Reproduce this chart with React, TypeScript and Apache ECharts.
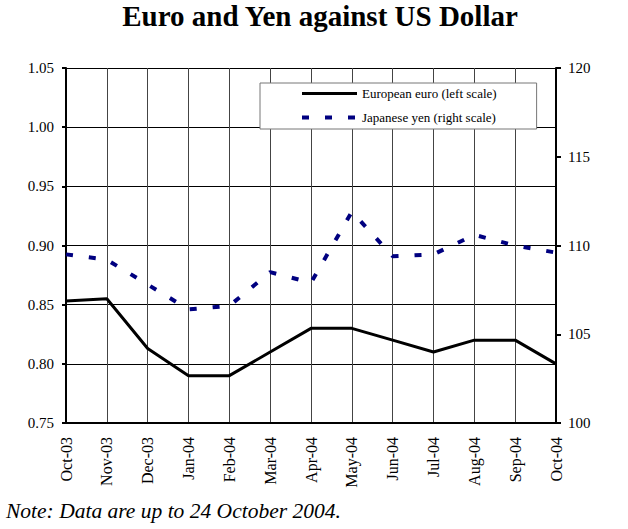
import { useEffect, useRef } from 'react';
import * as echarts from 'echarts';

const months = ['Oct-03', 'Nov-03', 'Dec-03', 'Jan-04', 'Feb-04', 'Mar-04', 'Apr-04', 'May-04', 'Jun-04', 'Jul-04', 'Aug-04', 'Sep-04', 'Oct-04'];
const euro = [0.853, 0.855, 0.813, 0.79, 0.79, 0.81, 0.83, 0.83, 0.82, 0.81, 0.82, 0.82, 0.80];
const yen = [109.5, 109.2, 107.8, 106.4, 106.6, 108.5, 107.9, 111.9, 109.4, 109.5, 110.6, 110.0, 109.6];
const leftScale = { min: 0.75, max: 1.05, interval: 0.05 };
const rightScale = { min: 100, max: 120, interval: 5 };
const euroName = 'European euro (left scale)';
const yenName = 'Japanese yen (right scale)';
const titleText = 'Euro and Yen against US Dollar';
const noteText = 'Note: Data are up to 24 October 2004.';

const SERIF = 'Liberation Serif, DejaVu Serif, serif';

export default function App() {
  const ref = useRef<HTMLDivElement>(null);
  useEffect(() => {
    if (!ref.current) return;
    const chart = echarts.init(ref.current, null, { renderer: 'svg' });
    chart.setOption({
      animation: false,
      backgroundColor: '#fff',
      graphic: [
        {
          type: 'text',
          x: 320,
          y: 16,
          style: {
            text: titleText,
            font: `bold 29px ${SERIF}`,
            fill: '#000',
            align: 'center',
            verticalAlign: 'middle',
          },
        },
        {
          type: 'text',
          x: 6,
          y: 511,
          style: {
            text: noteText,
            font: `italic 21.5px ${SERIF}`,
            fill: '#000',
            align: 'left',
            verticalAlign: 'middle',
          },
        },
      ],
      grid: { left: 66, right: 72, top: 68, bottom: 106, containLabel: false },
      legend: {
        left: 260,
        top: 83,
        orient: 'vertical',
        data: [euroName, yenName],
        itemWidth: 55,
        itemHeight: 14,
        itemGap: 11,
        padding: [4, 40, 5, 40],
        backgroundColor: '#fff',
        borderColor: '#777',
        borderWidth: 1,
        borderRadius: 0,
        itemStyle: { opacity: 0 },
        lineStyle: { width: 'inherit' },
        textStyle: { fontFamily: SERIF, fontSize: 13, color: '#000' },
        selectedMode: false,
      },
      xAxis: {
        type: 'category',
        data: months,
        boundaryGap: false,
        axisLine: { show: true, lineStyle: { color: '#000', width: 2 } },
        axisTick: { show: false },
        axisLabel: { rotate: 90, fontSize: 16, fontFamily: SERIF, color: '#000', margin: 14, interval: 0 },
        splitLine: { show: true, lineStyle: { color: '#444', width: 1 } },
      },
      yAxis: [
        {
          type: 'value',
          position: 'left',
          min: leftScale.min,
          max: leftScale.max,
          interval: leftScale.interval,
          axisLine: { show: true, lineStyle: { color: '#000', width: 2 } },
          axisTick: { show: true, length: 4, lineStyle: { color: '#000', width: 2 } },
          axisLabel: { fontSize: 15, fontFamily: SERIF, color: '#000', margin: 12, formatter: (v: number) => v.toFixed(2) },
          splitLine: { show: true, lineStyle: { color: '#000', width: 1 } },
        },
        {
          type: 'value',
          position: 'right',
          min: rightScale.min,
          max: rightScale.max,
          interval: rightScale.interval,
          axisLine: { show: true, lineStyle: { color: '#000', width: 2 } },
          axisTick: { show: true, length: 5, lineStyle: { color: '#000', width: 2 } },
          axisLabel: { fontSize: 15, fontFamily: SERIF, color: '#000', margin: 12 },
          splitLine: { show: false },
        },
      ],
      series: [
        {
          name: euroName,
          type: 'line',
          yAxisIndex: 0,
          data: euro,
          symbol: 'none',
          lineStyle: { color: '#000', width: 3 },
          itemStyle: { color: '#000' },
          z: 3,
        },
        {
          name: yenName,
          type: 'line',
          yAxisIndex: 1,
          data: yen,
          symbol: 'none',
          lineStyle: { color: '#000080', width: 4, type: [7, 16] },
          itemStyle: { color: '#000080' },
          z: 3,
        },
      ],
    });
    return () => chart.dispose();
  }, []);
  return <div ref={ref} style={{ position: 'absolute', left: 0, top: 0, width: 628, height: 529 }} />;
}
